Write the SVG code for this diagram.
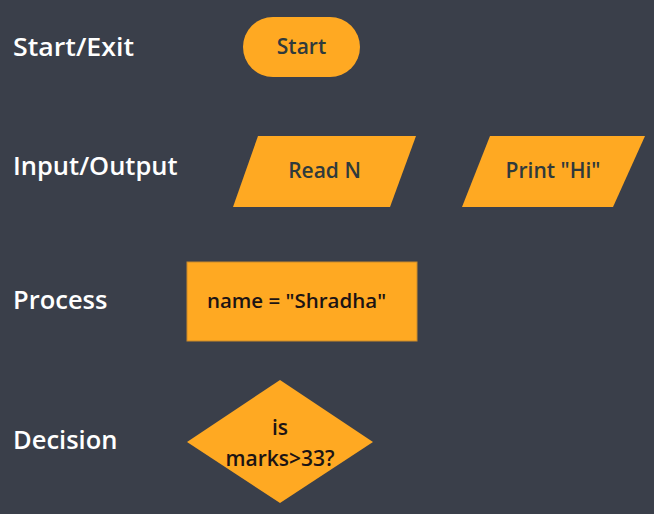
<svg xmlns="http://www.w3.org/2000/svg" width="654" height="514" viewBox="0 0 654 514">
<style>
.bg{fill:#3a3f4a}
.shape{fill:#ffa922}
.lbl{font-family:"Open Sans","Liberation Sans",sans-serif;font-weight:600;font-size:25.5px;fill:#ffffff}
.t{font-family:"Open Sans","Liberation Sans",sans-serif;font-weight:600;font-size:21px;fill:#2f3a3c;text-anchor:middle;dominant-baseline:central}
.tk{fill:#1c1414}
</style>
<rect class="bg" x="0" y="0" width="654" height="514"/>
<g id="labels">
<text class="lbl" x="13" y="56" textLength="121" lengthAdjust="spacingAndGlyphs">Start/Exit</text>
<text class="lbl" x="13" y="175">Input/Output</text>
<text class="lbl" x="13" y="309">Process</text>
<text class="lbl" x="13" y="449">Decision</text>
</g>
<g id="start">
<rect class="shape" x="243" y="17" width="117" height="60" rx="30"/>
<text class="t" x="301.5" y="46">Start</text>
</g>
<g id="read">
<polygon class="shape" points="258,136 416,136 390,207 233,207"/>
<text class="t" x="324.5" y="170">Read N</text>
</g>
<g id="print">
<polygon class="shape" points="490,136 645,136 613,207 462,207"/>
<text class="t" x="553" y="170">Print "Hi"</text>
</g>
<g id="process">
<rect class="shape" x="187" y="262" width="230" height="79" stroke="#c98a2a" stroke-width="1"/>
<text class="t tk" x="296.5" y="300" style="font-size:20.5px">name = "Shradha"</text>
</g>
<g id="decision">
<polygon class="shape" points="280,380 373,442 280,503 187,442"/>
<text class="t tk" x="280" y="427">is</text>
<text class="t tk" x="280" y="458">marks&gt;33?</text>
</g>
<g id="connectors"/>
</svg>
